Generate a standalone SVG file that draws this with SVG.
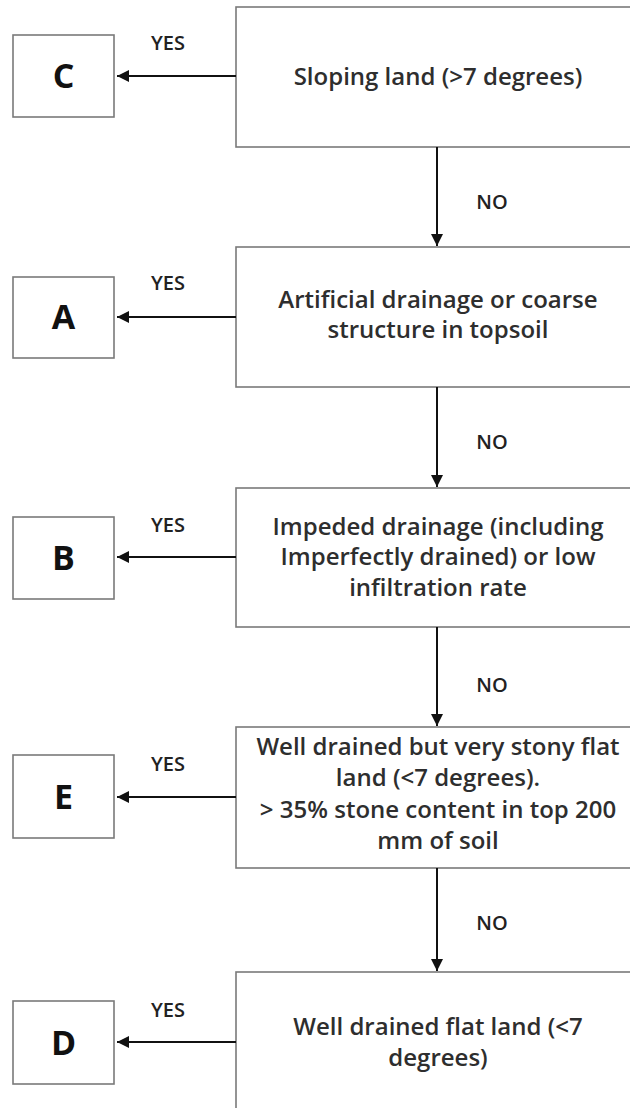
<svg xmlns="http://www.w3.org/2000/svg" width="630" height="1108" viewBox="0 0 630 1108">
<defs>
<style>
.box{fill:#fff;stroke:#7a7a7a;stroke-width:1.6}
.lbl{font-family:"Open Sans","Liberation Sans",Arial,sans-serif;font-weight:600;font-size:24px;fill:#2e2e2e;text-anchor:middle}
.big{font-family:"Open Sans","Liberation Sans",Arial,sans-serif;font-weight:700;font-size:34px;fill:#111;text-anchor:middle}
.yn{font-family:"Open Sans","Liberation Sans",Arial,sans-serif;font-weight:600;font-size:20px;fill:#222;text-anchor:middle}
.ln{stroke:#111;stroke-width:2;fill:none}
</style>
<marker id="ah" viewBox="0 0 10 10" refX="10" refY="5" markerWidth="6" markerHeight="6" markerUnits="strokeWidth" orient="auto">
<path d="M0,0 L10,5 L0,10 z" fill="#111"/>
</marker>
</defs>
<rect width="630" height="1108" fill="#fff"/>

<g id="q1">
<rect class="box" x="236" y="7" width="404" height="140"/>
<text class="lbl" x="438" y="85">Sloping land (&gt;7 degrees)</text>
</g>
<g id="q2">
<rect class="box" x="236" y="247" width="404" height="140"/>
<text class="lbl" x="438" y="308">Artificial drainage or coarse</text>
<text class="lbl" x="438" y="338">structure in topsoil</text>
</g>
<g id="q3">
<rect class="box" x="236" y="488" width="404" height="139"/>
<text class="lbl" x="438" y="535">Impeded drainage (including</text>
<text class="lbl" x="438" y="565">Imperfectly drained) or low</text>
<text class="lbl" x="438" y="596">infiltration rate</text>
</g>
<g id="q4">
<rect class="box" x="236" y="727" width="404" height="141"/>
<text class="lbl" x="438" y="755">Well drained but very stony flat</text>
<text class="lbl" x="438" y="786">land (&lt;7 degrees).</text>
<text class="lbl" x="438" y="818">&gt; 35% stone content in top 200</text>
<text class="lbl" x="438" y="849">mm of soil</text>
</g>
<g id="q5">
<rect class="box" x="236" y="972" width="404" height="150"/>
<text class="lbl" x="438" y="1035">Well drained flat land (&lt;7</text>
<text class="lbl" x="438" y="1066">degrees)</text>
</g>

<g id="C"><rect class="box" x="13" y="35" width="101" height="82"/><text class="big" x="63.5" y="88">C</text></g>
<g id="A"><rect class="box" x="13" y="277" width="101" height="81"/><text class="big" x="63.5" y="329">A</text></g>
<g id="B"><rect class="box" x="13" y="517" width="101" height="82"/><text class="big" x="63.5" y="570">B</text></g>
<g id="E"><rect class="box" x="13" y="755" width="101" height="83"/><text class="big" x="63.5" y="809">E</text></g>
<g id="D"><rect class="box" x="13" y="1001" width="101" height="83"/><text class="big" x="63.5" y="1055">D</text></g>

<g id="connectors">
<line class="ln" x1="236" y1="76" x2="117" y2="76" marker-end="url(#ah)"/>
<line class="ln" x1="236" y1="317" x2="117" y2="317" marker-end="url(#ah)"/>
<line class="ln" x1="236" y1="557" x2="117" y2="557" marker-end="url(#ah)"/>
<line class="ln" x1="236" y1="797" x2="117" y2="797" marker-end="url(#ah)"/>
<line class="ln" x1="236" y1="1042" x2="117" y2="1042" marker-end="url(#ah)"/>
<line class="ln" x1="437" y1="147" x2="437" y2="246" marker-end="url(#ah)"/>
<line class="ln" x1="437" y1="387" x2="437" y2="487" marker-end="url(#ah)"/>
<line class="ln" x1="437" y1="627" x2="437" y2="726" marker-end="url(#ah)"/>
<line class="ln" x1="437" y1="868" x2="437" y2="971" marker-end="url(#ah)"/>
<text class="yn" x="168" y="50">YES</text>
<text class="yn" x="168" y="290">YES</text>
<text class="yn" x="168" y="532">YES</text>
<text class="yn" x="168" y="771">YES</text>
<text class="yn" x="168" y="1017">YES</text>
<text class="yn" x="492" y="209">NO</text>
<text class="yn" x="492" y="449">NO</text>
<text class="yn" x="492" y="692">NO</text>
<text class="yn" x="492" y="930">NO</text>
</g>
</svg>
